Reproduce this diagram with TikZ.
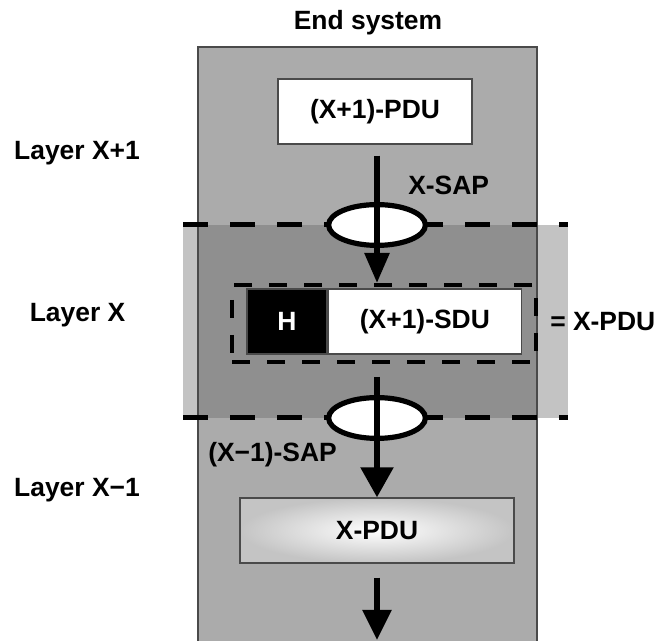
\documentclass[tikz,border=0pt]{standalone}
\usepackage{fontspec}
\setmainfont{Liberation Sans}
\usetikzlibrary{arrows.meta, shapes.geometric}
\definecolor{column-gray}{HTML}{ABABAB}
\definecolor{band-dark}{HTML}{8F8F8F}
\definecolor{band-light}{HTML}{C3C3C3}
\definecolor{edge-gray}{HTML}{4A4A4A}
\definecolor{pdu-shade}{HTML}{C4C4C4}

\begin{document}
\begin{tikzpicture}[
        every node/.style={font=\fontsize{18.8}{22}\selectfont\bfseries, inner sep=0pt},
        box/.style={draw=edge-gray, line width=1pt, minimum height=1.625cm},
        sap/.style={ellipse, draw=black, line width=0.13cm, fill=white,
            minimum width=2.42cm, minimum height=1.02cm},
        flow/.style={line width=0.14cm, -{Triangle[length=0.75cm, width=#1]}},
        flow/.default=0.8cm,
        boundary/.style={line width=0.125cm, dash pattern=on 0.625cm off 0.55cm}]
      \clip (0,0) rectangle (16.55,16);
      % end system column and layer X band
      \fill[column-gray] (4.95,-0.2) rectangle (13.425,14.825);
      \fill[band-light] (4.575,5.55) rectangle (14.2,10.375);
      \fill[band-dark]  (4.95,5.55) rectangle (13.425,10.375);
      \draw[edge-gray, line width=0.8pt] (4.95,-0.2) rectangle (13.425,14.825);
      \draw[boundary] (4.575,10.375) -- (14.2,10.375);
      \draw[boundary] (4.575,5.55) -- (14.2,5.55);
      \node (TTL) at (9.2,15.425) {End system};
      \node (LXP) at (1.925,12.175) {Layer X+1};
      \node (LX)  at (1.94,8.125) {Layer X};
      \node (LXM) at (1.925,3.75) {Layer X−1};
      \node[box, fill=white, minimum width=4.85cm] (PDU) at (9.375,13.2125) {(X+1)-PDU};
      \node[sap] (XSAP) at (9.425,10.375) {};
      \node[sap] (LSAP) at (9.425,5.55) {};
      \node[anchor=west] (XSAPL) at (10.2,11.375) {X-SAP};
      \node[anchor=west] (LSAPL) at (5.2,4.625) {(X−1)-SAP};
      \node[draw, line width=0.1cm, dash pattern=on 0.45cm off 0.425cm,
            minimum width=7.6cm, minimum height=1.925cm] (FRM) at (9.6,7.9125) {};
      \node[box, fill=black, text=white, minimum width=2cm] (HDR) at (7.175,7.9625) {H};
      \node[box, fill=white, minimum width=4.825cm, anchor=west] (SDU) at (HDR.east) {(X+1)-SDU};
      \node[anchor=west] (EQ) at (13.75,7.95) {= X-PDU};
      \node[box, minimum width=6.85cm, inner color=white, outer color=pdu-shade]
            (XPDU) at (9.425,2.7375) {X-PDU};
      \coordinate (OUT) at (9.425,0);
      \draw[flow=0.6cm, shorten <=0.275cm] (PDU.south -| XSAP) -- (FRM.north -| XSAP);
      \draw[flow, shorten <=0.325cm] (FRM.south -| LSAP) -- (XPDU.north -| LSAP);
      \draw[flow=0.7cm, shorten <=0.35cm] (XPDU.south -| OUT) -- (OUT);
    \end{tikzpicture}
\end{document}
